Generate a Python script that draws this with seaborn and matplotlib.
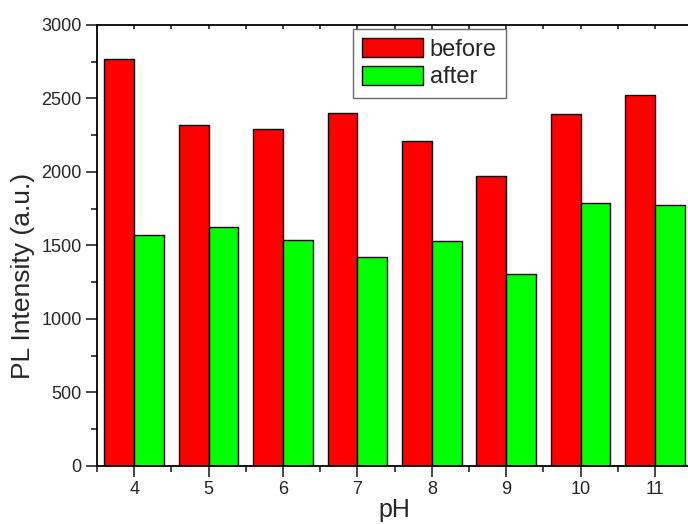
import pandas as pd
import seaborn as sns
import matplotlib.pyplot as plt
from matplotlib.ticker import MultipleLocator, FixedLocator

ph = ["4", "5", "6", "7", "8", "9", "10", "11"]
before = [2769, 2318, 2290, 2401, 2209, 1975, 2393, 2522]
after = [1574, 1628, 1535, 1424, 1533, 1308, 1791, 1776]

df = pd.DataFrame({
    "pH": ph * 2,
    "value": before + after,
    "group": ["before"] * len(ph) + ["after"] * len(ph),
})

sns.set_style("ticks")
plt.rcParams["font.family"] = ["Liberation Sans", "DejaVu Sans"]

fig = plt.figure(figsize=(6.88, 5.24), dpi=100)
ax = fig.add_axes([0.141, 0.1107, 0.865, 0.8416])

sns.barplot(data=df, x="pH", y="value", hue="group",
            palette={"before": "#ff0000", "after": "#00ff00"},
            width=0.8, edgecolor="black", linewidth=1, saturation=1, ax=ax)

ax.set_xlim(-0.5, 7.5)
ax.set_ylim(0, 3000)
ax.yaxis.set_major_locator(MultipleLocator(500))
ax.yaxis.set_minor_locator(MultipleLocator(250))
ax.xaxis.set_minor_locator(FixedLocator([i + 0.5 for i in range(-1, 8)]))

ax.set_xlabel("pH", fontsize=18, labelpad=0)
ax.set_ylabel("PL Intensity (a.u.)", fontsize=19)
ax.yaxis.set_label_coords(-0.104, 0.43)

for s in ["left", "bottom", "top"]:
    ax.spines[s].set_linewidth(1.3)
    ax.spines[s].set_color("black")
ax.spines["right"].set_visible(False)

ax.tick_params(axis="both", which="major", direction="out", length=8, width=1.2,
               labelsize=13, pad=3)
ax.tick_params(axis="both", which="minor", direction="out", length=4, width=1.2)
ax.tick_params(axis="x", which="both", top=False)
ax.tick_params(axis="y", which="both", right=False)

# top ticks point inward like the original
secx = ax.secondary_xaxis("top")
secx.set_xticks(range(8))
secx.xaxis.set_minor_locator(FixedLocator([i + 0.5 for i in range(-1, 8)]))
secx.tick_params(which="both", direction="in", length=3, width=1.2, labeltop=False)
secx.spines["top"].set_visible(False)

leg = ax.legend(loc="upper left", bbox_to_anchor=(0.430, 0.991), fontsize=17,
                frameon=True, fancybox=False, edgecolor="#444444",
                handlelength=2.55, handleheight=0.85, handletextpad=0.3,
                borderpad=0.4, labelspacing=0.2, borderaxespad=0, title=None)
leg.get_frame().set_linewidth(1.0)

fig.savefig("out.png", dpi=100)
